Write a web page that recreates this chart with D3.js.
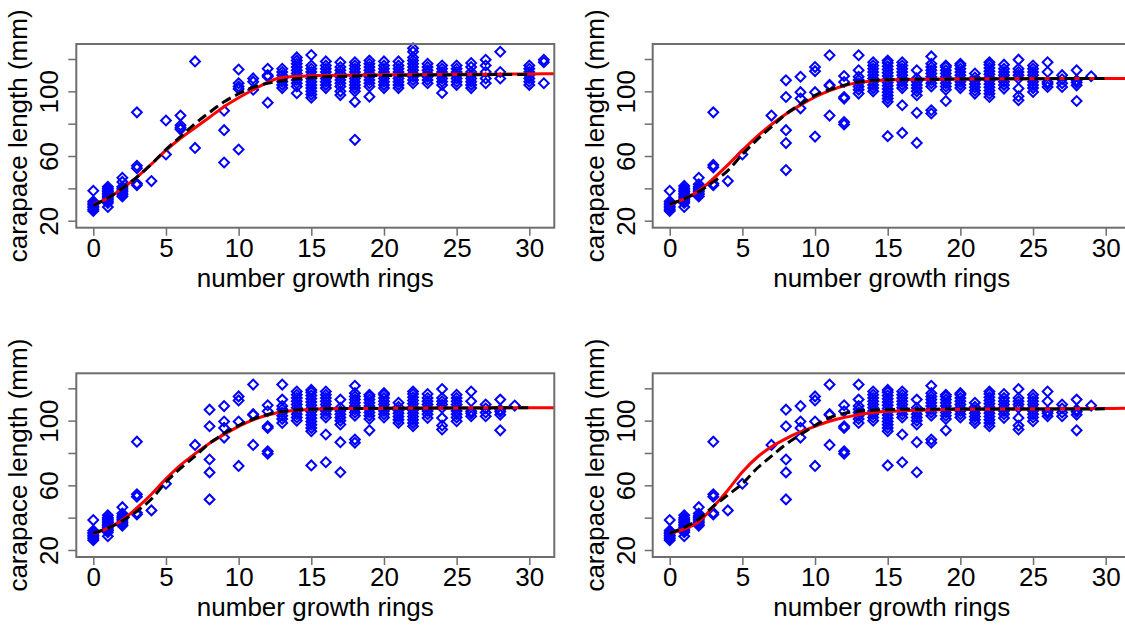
<!DOCTYPE html>
<html>
<head>
<meta charset="utf-8">
<script src="https://d3js.org/d3.v7.min.js"></script>
<style>
  body { margin: 0; background: #fff; }
  svg { display: block; }
  text { font-family: "Liberation Sans", Arial, sans-serif; font-size: 26px; fill: #000; }
</style>
</head>
<body>
<div id="chart"></div>
<script>
// ---- data ----
var xTicks = [0, 5, 10, 15, 20, 25, 30];
var yTicks = [20, 40, 60, 80, 100, 120];
var yLabelled = [20, 60, 100];

// observations, first panel (ring count -> carapace lengths)
var ringsA = [0, 1, 2, 3, 4, 5, 6, 7, 9, 10, 11, 12, 13, 14, 15, 16, 17, 18, 19, 20, 21, 22, 23, 24, 25, 26, 27, 28, 30, 31];
var lengthsA = [
  [26, 27, 28, 29, 30, 31, 32, 38.5],
  [28.5, 31, 32, 33, 34, 35, 36, 37, 38, 39, 40, 41],
  [35, 36, 37, 38, 39, 40, 41, 44, 46.5],
  [87, 54, 52.5, 43, 42],
  [44.5],
  [82, 61],
  [85, 79, 77.5, 76.5],
  [118.5, 65],
  [88, 76, 56],
  [113.5, 105, 103, 101.5, 64],
  [108, 106, 101],
  [114, 110, 109, 93],
  [102, 104, 106, 108, 110, 112, 114],
  [98.8, 103, 105, 107, 109, 111, 113, 115, 117, 119, 121],
  [122.5, 96, 98, 100, 102, 104, 106, 108, 110, 112, 114, 116],
  [102, 104, 106, 108, 110, 112, 114, 116, 118.5],
  [97.7, 100, 103, 105, 107, 109, 111, 113, 115, 118],
  [70, 93.5, 100, 102, 104, 106, 108, 110, 112, 114, 116, 118],
  [96.7, 103, 105, 107, 109, 111, 113, 115, 117, 119],
  [102, 104, 106, 108, 110, 112, 114, 116, 118.5],
  [102, 104, 106, 108, 110, 112, 114, 116, 118.5],
  [126.6, 124.5, 121, 105, 107, 109, 111, 113, 115, 117, 119],
  [105, 107, 109, 111, 113, 115, 117],
  [99, 104, 106, 108, 110, 112, 114, 116],
  [104, 106, 108, 110, 112, 114, 116],
  [102, 104, 106, 108, 110, 112, 115, 117.5],
  [119.5, 116, 112, 108, 105],
  [124.5, 112, 108],
  [104, 106, 108, 110, 112, 114, 116],
  [119.5, 118, 105]
];

// observations, the other three panels
var ringsB = [0, 1, 2, 3, 4, 5, 7, 8, 9, 10, 11, 12, 13, 14, 15, 16, 17, 18, 19, 20, 21, 22, 23, 24, 25, 26, 27, 28, 29];
var lengthsB = [
  [26, 27, 28, 29, 30, 31, 32, 38.5],
  [28.5, 31, 32, 33, 34, 35, 36, 37, 38, 39, 40, 41.5],
  [35, 36, 37, 38, 39, 40, 41, 42.5, 46.5],
  [87, 54.5, 53, 43, 42],
  [44.5],
  [61],
  [85],
  [106.8, 96.5, 76, 68, 51.3],
  [109, 99.5, 95.5, 89.5],
  [115, 112.5, 99.5, 72],
  [122.3, 104, 103.5, 85],
  [109.5, 105.8, 96.5, 95.5, 81, 79.5],
  [122.3, 113, 109, 107, 105, 103, 101, 98.6],
  [100, 102, 104, 106, 108, 110, 112, 114, 116, 118],
  [72.3, 93.5, 95.5, 97.5, 99.5, 101.5, 103.5, 105.5, 107.5, 109.5, 111.5, 113.5, 115.5, 117.5, 119],
  [74.3, 91.4, 102, 104, 106, 108, 110, 112, 114, 116, 118],
  [68.1, 86.7, 97.6, 100, 102, 104, 106, 108, 113],
  [121.6, 86.3, 88.3, 103, 105, 107, 109, 111, 113, 115, 117],
  [94, 101, 103, 105, 107, 109, 111, 113, 115, 116],
  [102, 104, 106, 108, 110, 112, 114, 116, 117],
  [98.6, 100.5, 102.5, 104.5, 106.5, 108.5, 111],
  [96.5, 98.5, 100.5, 102.5, 104.5, 106.5, 108.5, 110.5, 112.5, 114.5, 116.5, 118],
  [101.7, 104, 106, 108, 110, 112, 114, 116.5],
  [94.5, 97, 101.7, 108, 110, 112, 114, 119.6],
  [99.6, 102, 104, 106, 108, 110, 112, 114, 116],
  [102.7, 104.5, 105.8, 112, 118],
  [102.7, 105, 107.5, 110],
  [94, 103.7, 105.5, 106.8, 113],
  [109.3]
];

// fitted curves, evaluated at these ring counts
var curveRings = [0, 1, 2, 3, 4, 5, 6, 7, 8, 9, 10, 11, 12, 12.5, 13, 14, 15, 16, 18, 20, 25, 30, 32];
var redFit1 = [30, 34, 40, 47, 55, 63.5, 71, 77.5, 84, 90.5, 96, 101, 105.5, 107.5, 108.6, 109.3, 109.6, 109.8, 110, 110.2, 110.5, 110.8, 110.9];
var blackFit1 = [29.5, 34, 40, 47, 55, 64, 72, 80, 87, 93.5, 98.5, 102.5, 105, 105.8, 106.5, 107.8, 108.5, 109, 109.5, 109.8, 110.2, 110.5];
var redFit2 = [30, 33.5, 38.5, 46, 54.5, 63.5, 72, 79.5, 86, 91.5, 96.5, 100.5, 103.5, 104.6, 105.5, 106.5, 107, 107.3, 107.5, 107.6, 107.8, 108, 108];
var blackFit2 = [30.3, 33.5, 38, 44, 51, 61, 70, 78, 86, 92, 97.5, 101, 103.8, 105, 105.8, 106.8, 107.2, 107.4, 107.5, 107.6, 107.8, 108];
var redFit3 = [30, 33.5, 38.5, 46, 54.5, 64, 72.5, 79.5, 86, 91.5, 96.5, 100.5, 103.5, 104.6, 105.5, 106.5, 107, 107.3, 107.5, 107.6, 107.8, 108, 108];
var blackFit3 = [30.3, 33.5, 38, 44, 51.5, 62, 70.5, 78, 86, 92, 97, 101, 103.8, 105, 105.6, 106.6, 107, 107.3, 107.5, 107.6, 107.8, 108];
var redFit4 = [30.5, 33, 37.5, 46.7, 57, 68.3, 77.2, 83.8, 88.9, 93, 96.5, 99.6, 101.9, 102.8, 103.7, 105, 105.8, 106.1, 106.6, 107, 107.2, 107.5, 107.8];
var blackFit4 = [30.3, 34, 39, 47, 54, 61, 70.4, 78, 85.4, 91.4, 97, 101.8, 104.5, 105.3, 106, 106.5, 106.8, 107, 107.1, 107.2, 107.2, 107.3];

var xLabel = 'number growth rings';
var yLabel = 'carapace length (mm)';

// ---- layout ----
var width = 1125, height = 625;
var boxW = 478, boxH = 183.7;
var boxColor = '#6e6e6e';

function flatten(rings, lengths) {
  var out = [];
  rings.forEach(function(r, i) {
    lengths[i].forEach(function(v) { out.push([r, v]); });
  });
  return out;
}
var ptsA = flatten(ringsA, lengthsA);
var ptsB = flatten(ringsB, lengthsB);

var panels = [
  { left: 76.3, top: 44, pts: ptsA, red: redFit1, black: blackFit1 },
  { left: 652.7, top: 44, pts: ptsB, red: redFit2, black: blackFit2 },
  { left: 76.3, top: 373.3, pts: ptsB, red: redFit3, black: blackFit3 },
  { left: 652.7, top: 373.3, pts: ptsB, red: redFit4, black: blackFit4 }
];

var x = d3.scaleLinear().domain([-1.17, 31.72]).range([0, boxW]);
var y = d3.scaleLinear().domain([15.67, 129.28]).range([boxH, 0]);

var svg = d3.select('#chart').append('svg')
  .attr('width', width)
  .attr('height', height);

svg.append('rect').attr('width', width).attr('height', height).attr('fill', '#fff');

var diamond = d3.symbol().type(d3.symbolSquare).size(48);

var line = d3.line()
  .x(function(d) { return x(d[0]); })
  .y(function(d) { return y(d[1]); })
  .curve(d3.curveMonotoneX);

panels.forEach(function(p, i) {
  var g = svg.append('g').attr('transform', 'translate(' + p.left + ',' + p.top + ')');

  g.append('clipPath').attr('id', 'clip' + i)
    .append('rect').attr('width', boxW).attr('height', boxH);

  // points
  g.append('g').selectAll('path')
    .data(p.pts)
    .enter()
    .append('path')
    .attr('d', diamond)
    .attr('transform', function(d) { return 'translate(' + x(d[0]) + ',' + y(d[1]) + ') rotate(45)'; })
    .attr('fill', 'none')
    .attr('stroke', '#0000ff')
    .attr('stroke-width', 2);

  // fitted curves
  var lines = g.append('g').attr('clip-path', 'url(#clip' + i + ')');
  var redData = curveRings.map(function(r, k) { return [r, p.red[k]]; });
  var blackData = p.black.map(function(v, k) { return [curveRings[k], v]; });
  lines.append('path')
    .attr('d', line(redData))
    .attr('fill', 'none')
    .attr('stroke', '#ff0000')
    .attr('stroke-width', 3);
  lines.append('path')
    .attr('d', line(blackData))
    .attr('fill', 'none')
    .attr('stroke', '#000')
    .attr('stroke-width', 3)
    .attr('stroke-dasharray', '10,5');

  // box
  g.append('rect')
    .attr('width', boxW).attr('height', boxH)
    .attr('fill', 'none')
    .attr('stroke', boxColor)
    .attr('stroke-width', 2);

  // x axis
  var xa = g.append('g')
    .attr('transform', 'translate(0,' + boxH + ')')
    .call(d3.axisBottom(x).tickValues(xTicks).tickSize(8).tickFormat(d3.format('d')));
  xa.select('.domain').remove();
  xa.selectAll('line').attr('stroke', boxColor).attr('stroke-width', 1.5);
  xa.selectAll('text')
    .attr('y', 29).attr('dy', 0)
    .style('font-size', '26px')
    .attr('fill', '#000');

  // y axis
  var ya = g.append('g')
    .call(d3.axisLeft(y).tickValues(yTicks).tickSize(8)
      .tickFormat(function(d) { return yLabelled.indexOf(d) >= 0 ? d : ''; }));
  ya.select('.domain').remove();
  ya.selectAll('line').attr('stroke', boxColor).attr('stroke-width', 1.5);
  ya.selectAll('text')
    .attr('x', 0).attr('dy', 0)
    .attr('text-anchor', 'middle')
    .attr('transform', 'translate(-18,0) rotate(-90)')
    .style('font-size', '26px')
    .attr('fill', '#000');

  // titles
  g.append('text')
    .attr('x', boxW / 2)
    .attr('y', boxH + 59)
    .attr('text-anchor', 'middle')
    .text(xLabel);

  g.append('text')
    .attr('transform', 'translate(-49,' + (boxH / 2) + ') rotate(-90)')
    .attr('text-anchor', 'middle')
    .text(yLabel);
});
</script>
</body>
</html>
